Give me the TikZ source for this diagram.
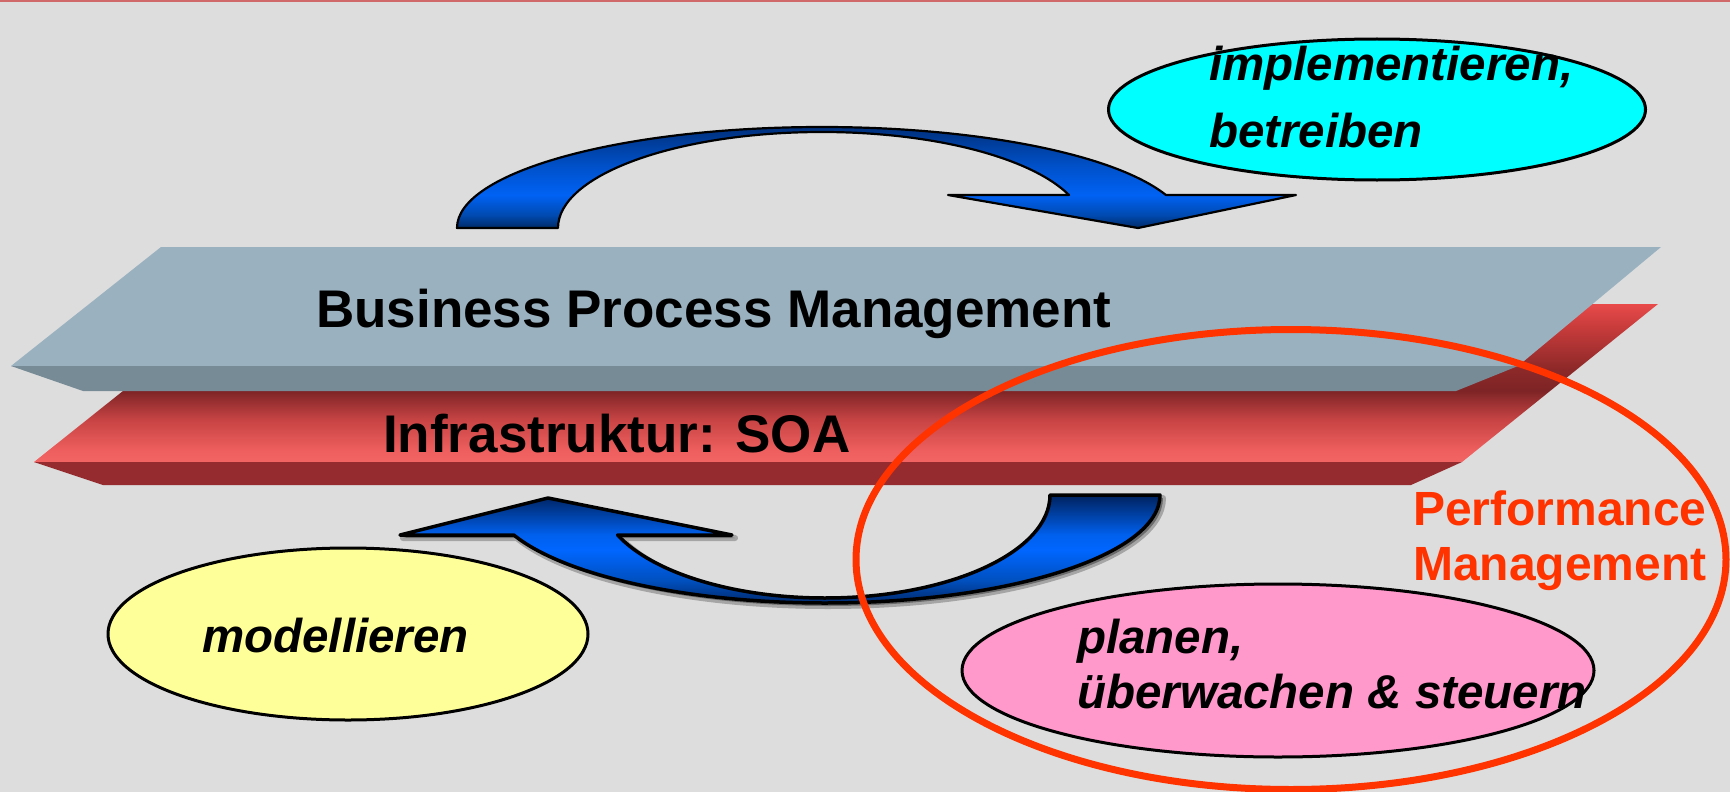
\documentclass[tikz,border=0pt]{standalone}
\usepackage{fontspec}
\setmainfont{Liberation Sans}
\usetikzlibrary{shapes.geometric}
\definecolor{bg}{HTML}{DDDDDD}
\definecolor{topline}{HTML}{D06A6A}
\definecolor{graytop}{HTML}{9AB1BF}
\definecolor{grayfront}{HTML}{778B96}
\definecolor{redfront}{HTML}{952B2E}
\definecolor{rs1}{HTML}{E84A4A}
\definecolor{rs2}{HTML}{C43A3A}
\definecolor{rs3}{HTML}{8C2828}
\definecolor{rs4}{HTML}{7E2426}
\definecolor{rs5}{HTML}{C84444}
\definecolor{rs6}{HTML}{EE5E5E}
\definecolor{rs7}{HTML}{F26464}
\definecolor{tb1}{HTML}{00307C}
\definecolor{tb2}{HTML}{0050C8}
\definecolor{tb3}{HTML}{0062F4}
\definecolor{tb4}{HTML}{004AB0}
\definecolor{tb5}{HTML}{002A66}
\definecolor{bb1}{HTML}{00225E}
\definecolor{bb2}{HTML}{0060EE}
\definecolor{bb3}{HTML}{0066FF}
\definecolor{bb4}{HTML}{0050C0}
\definecolor{bb5}{HTML}{002A6E}
\definecolor{cyanfill}{HTML}{00FFFF}
\definecolor{yellowfill}{HTML}{FFFF99}
\definecolor{pinkfill}{HTML}{FF99CC}
\definecolor{ringc}{HTML}{FF3300}
\pgfdeclareverticalshading{redslab}{100bp}{color(0bp)=(rs7); color(25bp)=(rs7); color(28.8bp)=(rs6); color(38.3bp)=(rs5); color(47.5bp)=(rs4); color(54.1bp)=(rs3); color(66.8bp)=(rs2); color(75bp)=(rs1); color(100bp)=(rs1)}
\pgfdeclareverticalshading{topblue}{100bp}{color(0bp)=(tb5); color(25bp)=(tb5); color(31.4bp)=(tb4); color(41.3bp)=(tb3); color(56.2bp)=(tb2); color(75bp)=(tb1); color(100bp)=(tb1)}
\pgfdeclareverticalshading{botblue}{100bp}{color(0bp)=(bb5); color(25bp)=(bb5); color(35.6bp)=(bb4); color(49.5bp)=(bb3); color(56.5bp)=(bb2); color(75bp)=(bb1); color(100bp)=(bb1)}
\tikzset{
  bubble/.style={ellipse, draw=black, line width=3pt, inner sep=0pt},
  lbl/.style={inner sep=0pt, anchor=base west},
  slabtxt/.style={lbl, font=\fontsize{53}{60}\selectfont\bfseries},
  bubtxt/.style={lbl, font=\fontsize{47.5}{55}\selectfont\bfseries\itshape},
  pmtxt/.style={lbl, text=ringc, font=\fontsize{48}{55}\selectfont\bfseries}
}
\begin{document}
\begin{tikzpicture}[x=1pt,y=-1pt,line join=round]
\useasboundingbox (0,0) rectangle (1730,792);
\fill[bg] (0,0) rectangle (1730,792);
\fill[topline] (0,0) rectangle (1730,2.5);
% red slab
\shade[shading=redslab] (232,304) -- (1658,304) -- (1462,462) -- (34,462) -- cycle;
\fill[redfront] (34,462) -- (1462,462) -- (1411,485) -- (103,485) -- cycle;
% gray slab
\fill[graytop] (161,247) -- (1661,247) -- (1518,366) -- (11,366) -- cycle;
\fill[grayfront] (11,366) -- (1518,366) -- (1456,391) -- (83,391) -- cycle;
% top arrow
\path[draw=black, line width=2.2pt, shade, shading=topblue]
  (457,228) .. controls (457,172.2) and (620.4,127) .. (822,127)
  .. controls (976.4,127) and (1114.1,153.9) .. (1165.9,195)
  -- (1296,195) -- (1138,228) -- (948,195) -- (1069,195)
  .. controls (1030.2,156.8) and (931.8,132) .. (822,132)
  .. controls (676.2,132) and (558,175) .. (558,228) -- cycle;
% bottom arrow shadow
\fill[black, opacity=0.35, line width=6pt, draw=black, draw opacity=0.25, shift={(3,3)}]
  (1050,495) .. controls (1050,551.9) and (949.3,598) .. (825,598)
  .. controls (734.4,598) and (652.7,573.1) .. (617.6,535)
  -- (732,535) -- (548,498) -- (400,535) -- (513.8,535)
  .. controls (564.5,576) and (687.8,603) .. (825,603)
  .. controls (1010,603) and (1160,554.6) .. (1160,495) -- cycle;
% bottom arrow
\path[draw=black, line width=3.5pt, shade, shading=botblue]
  (1050,495) .. controls (1050,551.9) and (949.3,598) .. (825,598)
  .. controls (734.4,598) and (652.7,573.1) .. (617.6,535)
  -- (732,535) -- (548,498) -- (400,535) -- (513.8,535)
  .. controls (564.5,576) and (687.8,603) .. (825,603)
  .. controls (1010,603) and (1160,554.6) .. (1160,495) -- cycle;
% bubbles
\node[bubble, fill=cyanfill, minimum width=537pt, minimum height=141pt] (impl) at (1377,109.5) {};
\node[bubble, fill=yellowfill, minimum width=480pt, minimum height=172pt] (model) at (348,634) {};
\node[bubble, fill=pinkfill, minimum width=632pt, minimum height=173pt] (plan) at (1278,670.5) {};
% ring
\node[ellipse, draw=ringc, line width=7pt, inner sep=0pt, minimum width=870pt, minimum height=460pt] (ring) at (1291,559.5) {};
% texts
\node[slabtxt] (bpm) at (316,327) {Business Process Management};
\node[slabtxt] (soa) at (383,452) {Infrastruktur: SOA};
\node[bubtxt] (t1) at (1209,81) {implementieren,};
\node[bubtxt] (t2) at (1209,147) {betreiben};
\node[bubtxt] (t3) at (202,652) {modellieren};
\node[bubtxt] (t4) at (1077,653) {planen,};
\node[bubtxt] (t5) at (1077,708) {überwachen \& steuern};
\node[pmtxt] (p1) at (1413,525) {Performance};
\node[pmtxt] (p2) at (1413,580) {Management};
\end{tikzpicture}
\end{document}
